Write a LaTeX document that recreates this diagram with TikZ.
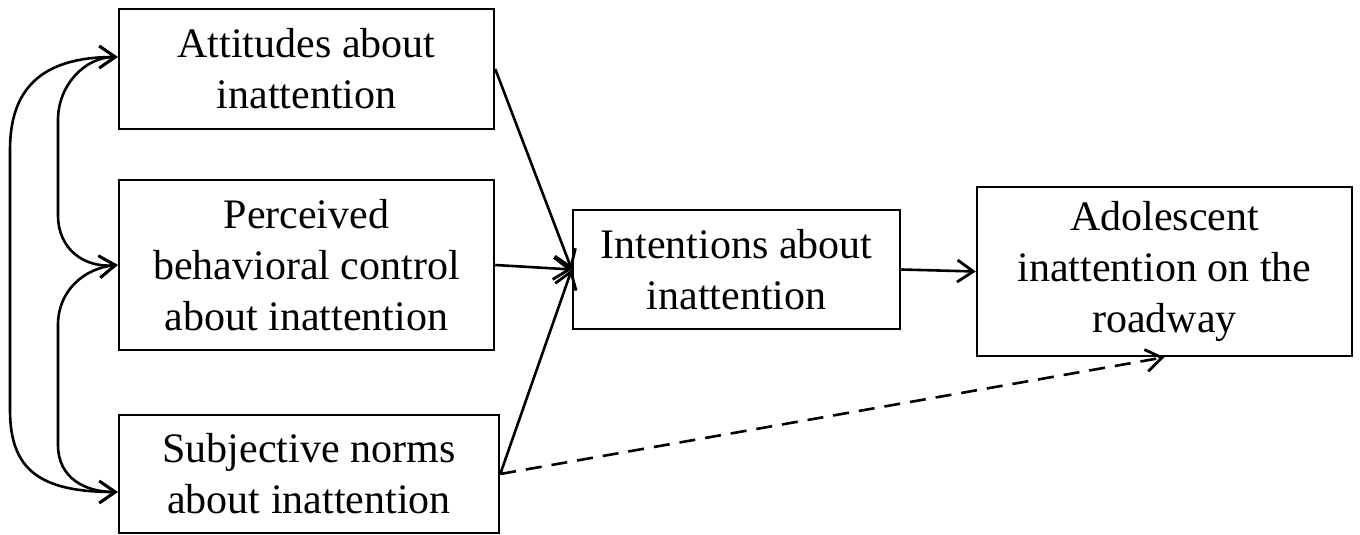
\documentclass[tikz,border=0pt]{standalone}
\usepackage{fontspec}
\setmainfont{Liberation Serif}
\usetikzlibrary{arrows.meta}
\tikzset{
  factor/.style={draw, line width=1.25pt, align=center, inner sep=0pt,
    font=\fontsize{21}{25.5}\selectfont},
  link/.style={line width=1.3pt, -{Straight Barb[length=8pt,width=11pt,line width=1.4pt]}},
  twoway/.style={line width=1.3pt,
    {Straight Barb[length=8pt,width=11pt,line width=1.4pt]}-{Straight Barb[length=8pt,width=11pt,line width=1.4pt]}},
}
\begin{document}
\begin{tikzpicture}[x=0.5pt,y=-0.5pt]
\useasboundingbox (0,0) rectangle (1360,535);

% predictors
\node[factor, minimum width=187.5pt, minimum height=60pt] (att) at (306.5,69) {Attitudes about\\inattention};
\node[factor, minimum width=187.5pt, minimum height=85pt] (pbc) at (306.5,265) {Perceived\\behavioral control\\about inattention};
\node[factor, minimum width=190pt, minimum height=59pt] (sub) at (309,474) {Subjective norms\\about inattention};

% intention and behaviour
\node[factor, minimum width=163.5pt, minimum height=59.5pt] (int) at (736.5,269.5) {Intentions about\\inattention};
\node[factor, minimum width=187.5pt, minimum height=84.5pt] (ado) at (1164.5,271.5) {Adolescent\\inattention on the\\roadway};

% correlations
\coordinate (attin) at ([yshift=6pt]att.west);
\coordinate (subin) at ([yshift=-9pt]sub.west);
\draw[twoway] (attin) .. controls (40,57) and (10,90) .. (10,150) -- (10,410) .. controls (10,470) and (40,492) .. (subin);
\draw[twoway] (attin) .. controls (85,57) and (58,85) .. (58,120) -- (58,215) .. controls (58,250) and (85,268) .. (pbc.west);
\draw[twoway] (pbc.west) .. controls (85,268) and (58,290) .. (58,325) -- (58,445) .. controls (58,478) and (85,492) .. (subin);

% paths
\draw[link] (att.east) -- (int.west);
\draw[link] (pbc.east) -- (int.west);
\draw[link] (sub.east) -- (int.west);
\draw[link] (int.east) -- (ado.west);
\draw[link, dash pattern=on 8pt off 5pt] (sub.east) -- (ado.south);
\end{tikzpicture}
\end{document}
